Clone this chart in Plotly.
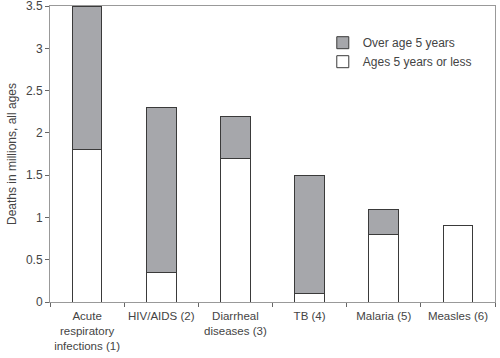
import plotly.graph_objects as go

categories = ["Acute<br>respiratory<br>infections (1)", "HIV/AIDS (2)", "Diarrheal<br>diseases (3)",
              "TB (4)", "Malaria (5)", "Measles (6)"]
under5 = [1.8, 0.35, 1.7, 0.1, 0.8, 0.9]
over5 = [1.7, 1.95, 0.5, 1.4, 0.3, 0.0]
y_ticks = [0, 0.5, 1, 1.5, 2, 2.5, 3, 3.5]
y_tick_labels = ["0", "0.5", "1", "1.5", "2", "2.5", "3", "3.5"]

font = dict(family="Liberation Sans, Arial, sans-serif", size=12, color="#444444")

fig = go.Figure()
fig.add_trace(go.Bar(x=categories, y=under5, name="Ages 5 years or less",
                     marker=dict(color="#ffffff", line=dict(color="#3a3a3a", width=1)),
                     width=0.4))
fig.add_trace(go.Bar(x=categories, y=over5, name="Over age 5 years",
                     marker=dict(color="#a6a7ab", line=dict(color="#3a3a3a", width=1)),
                     width=0.4))

fig.update_layout(
    barmode="stack",
    width=500, height=358,
    margin=dict(l=50, r=5, t=6, b=56),
    plot_bgcolor="white", paper_bgcolor="white",
    font=font,
    showlegend=True,
    legend=dict(x=0.613, y=0.925, xanchor="left", yanchor="top", traceorder="reversed",
                bgcolor="rgba(0,0,0,0)", font=dict(size=12, color="#444444"),
                tracegroupgap=0),
    xaxis=dict(showline=True, linecolor="#999999", linewidth=1, mirror=True,
               ticks="outside", tickson="boundaries", ticklen=4, tickcolor="#666666",
               showgrid=False, tickfont=dict(family=font["family"], size=11.5, color="#444444"),
               automargin=False, ticklabelstandoff=3, tickangle=0),
    yaxis=dict(range=[0, 3.501], tickvals=y_ticks, ticktext=y_tick_labels,
               showline=True, linecolor="#999999", linewidth=1, mirror=True,
               ticks="outside", ticklen=4, tickcolor="#666666",
               showgrid=False, zeroline=False, tickfont=font, automargin=False,
               ticklabeloverflow="allow",
               title=dict(text="Deaths in millions, all ages", font=font, standoff=6)),
)

fig.write_html("out.html", config={"displayModeBar": False},
               post_script="document.body.style.margin='0';")
